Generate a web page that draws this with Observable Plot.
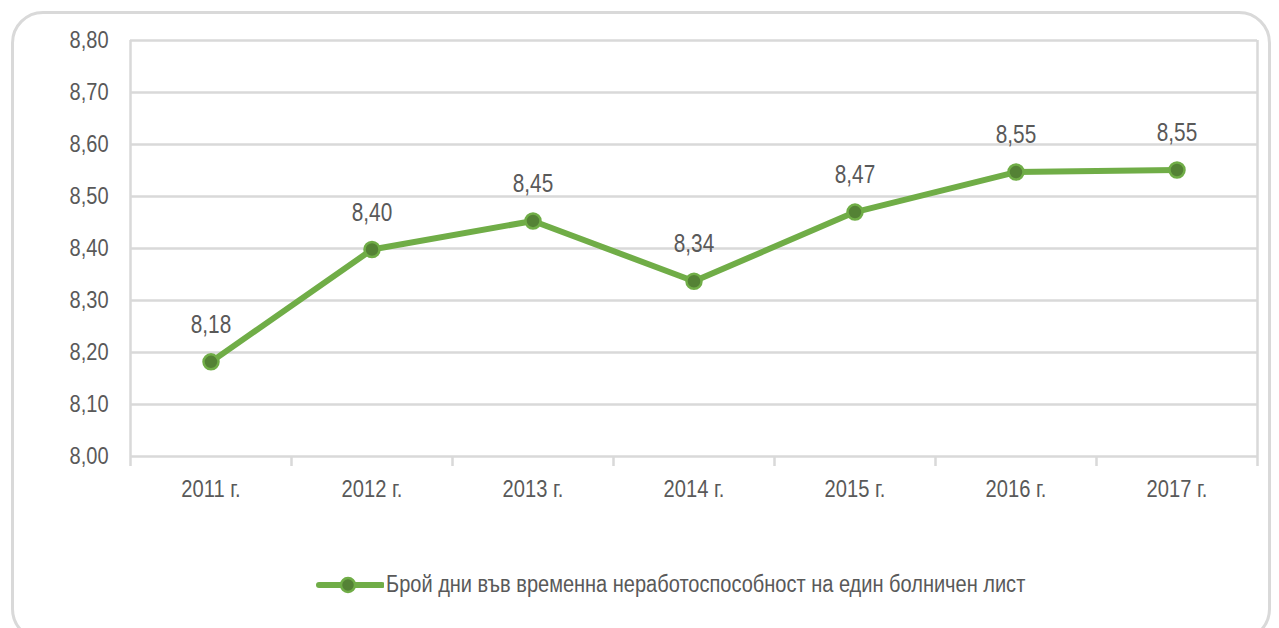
<!DOCTYPE html>
<html>
<head>
<meta charset="utf-8">
<script src="https://cdn.jsdelivr.net/npm/d3@7"></script>
<script src="https://cdn.jsdelivr.net/npm/@observablehq/plot@0.6"></script>
<style>
  html, body { margin: 0; padding: 0; background: #fff; }
  #wrap { position: relative; width: 1279px; height: 628px; overflow: hidden; }
  #frame { position: absolute; left: 11px; top: 11px; width: 1260px; height: 630px;
           border: 3px solid #d9d9d9; border-radius: 32px; box-sizing: border-box; }
  #chart { position: absolute; left: 0; top: 0; }
  #legend { position: absolute; left: 316px; top: 571px; display: flex; align-items: center; white-space: nowrap;
            font-family: 'Liberation Sans', Arial, sans-serif; font-size: 23px; color: #595959; }
  #legend span { display: inline-block; transform: scaleX(0.87); transform-origin: left center; margin-left: 2px; }
</style>
</head>
<body>
<div id="wrap">
  <div id="frame"></div>
  <div id="chart"></div>
  <div id="legend"></div>
</div>
<script>
const years = ["2011 г.", "2012 г.", "2013 г.", "2014 г.", "2015 г.", "2016 г.", "2017 г."];
const values = [8.182, 8.398, 8.453, 8.337, 8.470, 8.547, 8.551];
const yTicks = [8.0, 8.1, 8.2, 8.3, 8.4, 8.5, 8.6, 8.7, 8.8];
const seriesName = "Брой дни във временна неработоспособност на един болничен лист";

const green = "#70ad47";
const darkGreen = "#548235";
const grid = "#d9d9d9";
const textColor = "#595959";
const fmt = d => d.toFixed(2).replace(".", ",");

const data = years.map((y, i) => ({i, year: y, value: values[i]}));
const idx = years.map((_, i) => i);
const bounds = d3.range(-0.5, years.length, 1);

const chart = Plot.plot({
  width: 1279,
  height: 530,
  marginLeft: 130,
  marginRight: 22,
  marginTop: 40,
  marginBottom: 74,
  style: {fontFamily: "'Liberation Sans', Arial, sans-serif", fontSize: "23px", color: textColor, background: "transparent"},
  x: {type: "linear", domain: [-0.5, years.length - 0.5]},
  y: {domain: [8.0, 8.8]},
  marks: [
    Plot.gridY(yTicks, {stroke: grid, strokeOpacity: 1, strokeWidth: 2.5}),
    Plot.ruleX([bounds[0], bounds[bounds.length - 1]], {y1: 8.0, y2: 8.8, stroke: grid, strokeWidth: 2.5}),
    Plot.axisX(bounds, {tickSize: 10, tickFormat: () => "", label: null, stroke: grid, strokeWidth: 2.5, strokeOpacity: 1}),
    Plot.axisX(idx, {tickSize: 0, tickPadding: 23, tickFormat: i => years[i], label: null, fill: textColor, fontSize: 24}),
    Plot.axisY(yTicks, {tickSize: 0, tickPadding: 22, tickFormat: fmt, label: null, fill: textColor, fontSize: 23}),
    Plot.line(data, {x: "i", y: "value", stroke: green, strokeWidth: 6}),
    Plot.dot(data, {x: "i", y: "value", r: 7.5, fill: darkGreen, stroke: green, strokeWidth: 2.5}),
    Plot.text(data, {x: "i", y: "value", text: d => fmt(d.value), dy: -29, lineAnchor: "bottom", fill: textColor, fontSize: 26})
  ]
});

document.getElementById("chart").appendChild(chart);

// condense the text horizontally (the reference uses a narrow typeface)
const squeeze = {24: 0.84, 23: 0.87, 26: 0.8};
chart.querySelectorAll("text").forEach(t => {
  const fs = Math.round(parseFloat(getComputedStyle(t).fontSize));
  const s = squeeze[fs];
  if (!s) return;
  const tr = t.getAttribute("transform") || "";
  const x = +(t.getAttribute("x") || 0);
  t.setAttribute("transform", `${tr} translate(${x},0) scale(${s},1) translate(${-x},0)`);
});

const legend = document.getElementById("legend");
legend.innerHTML = `<svg width="68" height="20"><line x1="3" x2="66" y1="10" y2="10" stroke="${green}" stroke-width="6" stroke-linecap="round"/><circle cx="32" cy="10" r="7" fill="${darkGreen}" stroke="${green}" stroke-width="2.5"/></svg><span></span>`;
legend.querySelector("span").textContent = seriesName;
</script>
</body>
</html>
